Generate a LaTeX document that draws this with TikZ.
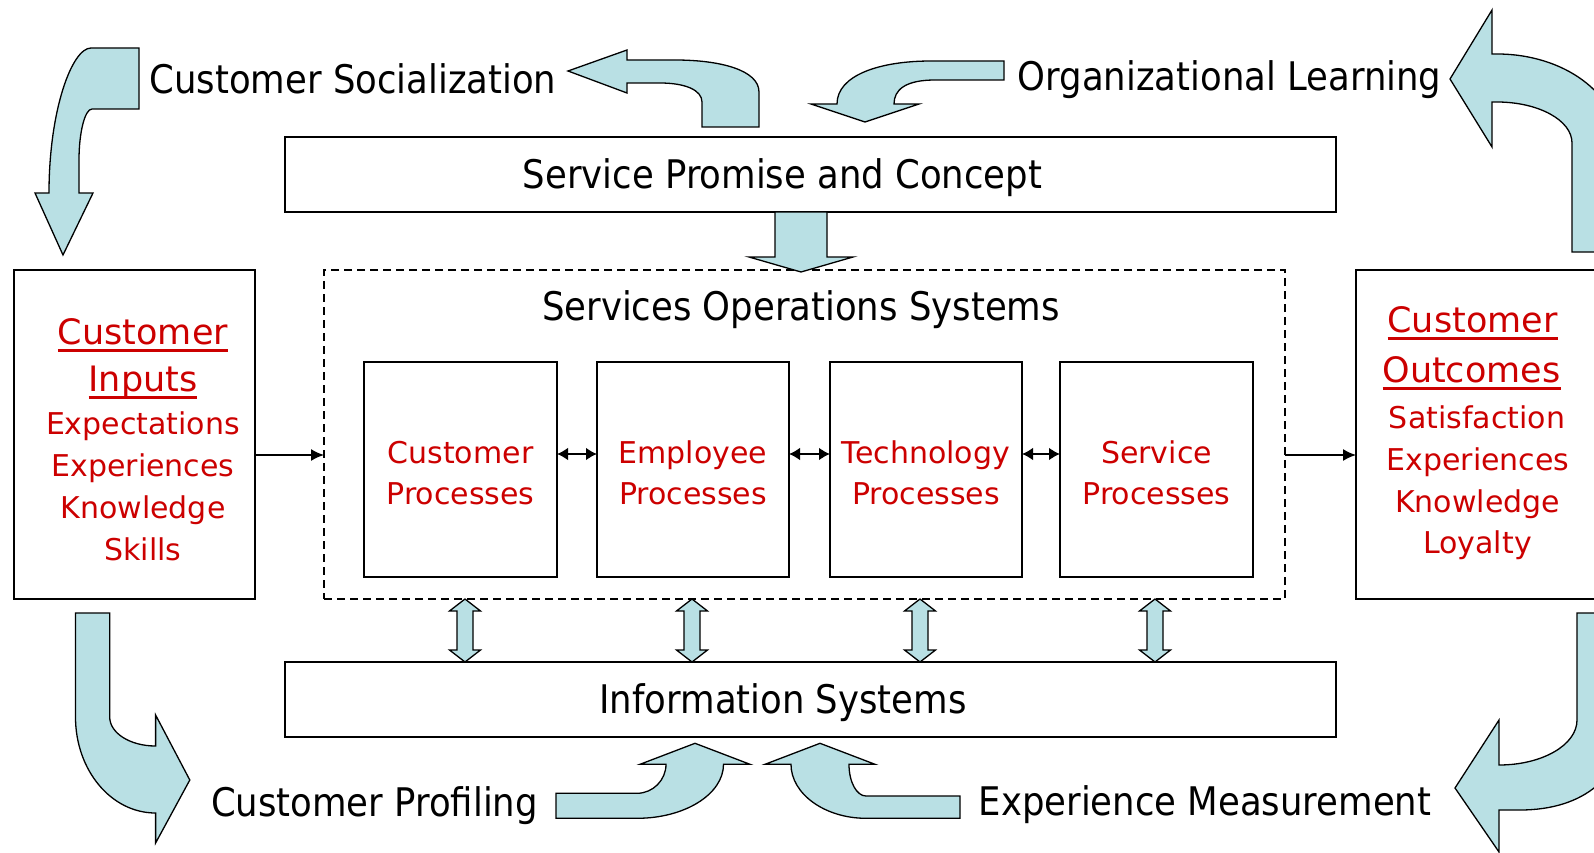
\documentclass[tikz,border=0pt]{standalone}
\usepackage{fontspec}
\newfontfamily\fblack[FakeStretch=0.9]{DejaVu Sans}
\newfontfamily\fred{DejaVu Sans}
\usetikzlibrary{arrows.meta}
\definecolor{ablue}{RGB}{185,224,228}
\definecolor{myred}{RGB}{204,0,0}
\newcommand\ulred[1]{\setbox0=\hbox{#1}\rlap{\rule[-8pt]{\wd0}{2.8pt}}\box0}
\begin{document}
\begin{tikzpicture}[x=1pt,y=-1pt,
  box/.style={draw=black, line width=1.8pt, fill=white, inner sep=0pt, outer sep=0pt, anchor=north west},
  dbox/.style={draw=black, line width=1.4pt, dash pattern=on 8pt off 5pt, inner sep=0pt, outer sep=0pt, anchor=north west},
  blk/.style={fill=ablue, draw=black, line width=1.3pt, line join=miter},
  conn/.style={draw=black, line width=1.8pt},
  dtip/.style={{Latex[length=11pt,width=13pt]}-{Latex[length=11pt,width=13pt]}},
  lbl/.style={inner sep=0pt, anchor=base, font=\fblack\fontsize{39.4}{46}\selectfont},
  rhead/.style={inner sep=0pt, anchor=base, text=myred, font=\fred\fontsize{35}{42}\selectfont},
  ritem/.style={inner sep=0pt, anchor=base, text=myred, font=\fred\fontsize{30}{36}\selectfont}]
\useasboundingbox (0,0) rectangle (1594,853);
\fill[white] (0,0) rectangle (1594,853);
\clip (0,0) rectangle (1594,853);

% boxes
\node[box, minimum width=1051pt, minimum height=75pt] (sp) at (285,137) {};
\node[box, minimum width=1051pt, minimum height=75pt] (is) at (285,662) {};
\node[dbox, minimum width=961pt, minimum height=329pt] (sos) at (324,270) {};
\node[box, minimum width=241pt, minimum height=329pt] (lbox) at (14,270) {};
\node[box, minimum width=300pt, minimum height=329pt] (rbox) at (1356,270) {};
\node[box, minimum width=193pt, minimum height=215pt] (p1) at (364,362) {};
\node[box, minimum width=192pt, minimum height=215pt] (p2) at (597,362) {};
\node[box, minimum width=192pt, minimum height=215pt] (p3) at (830,362) {};
\node[box, minimum width=193pt, minimum height=215pt] (p4) at (1060,362) {};

% black labels
\node[lbl] (tcs) at (353,94) {Customer Socialization};
\node[lbl] (tol) at (1229.5,91) {Organizational Learning};
\node[lbl] (tsp) at (782.5,189) {Service Promise and Concept};
\node[lbl] (tsos) at (801,320) {Services Operations Systems};
\node[lbl] (tis) at (783,713) {Information Systems};
\node[lbl] (tcp) at (374.5,816) {Customer Profiling};
\node[lbl] (tem) at (1205,815) {Experience Measurement};

% left box text
\node[rhead] (l1) at (143,344) {\ulred{Customer}};
\node[rhead] (l2) at (143,391) {\ulred{Inputs}};
\node[ritem] (l3) at (143,434) {Expectations};
\node[ritem] (l4) at (143,476) {Experiences};
\node[ritem] (l5) at (143,518) {Knowledge};
\node[ritem] (l6) at (143,560) {Skills};

% right box text
\node[rhead] (r1) at (1472.5,332) {\ulred{Customer}};
\node[rhead] (r2) at (1471.5,382) {\ulred{Outcomes}};
\node[ritem] (r3) at (1477,428) {Satisfaction};
\node[ritem] (r4) at (1478,470) {Experiences};
\node[ritem] (r5) at (1477.5,512) {Knowledge};
\node[ritem] (r6) at (1477.5,553) {Loyalty};

% process texts
\node[ritem] (p1a) at (460.5,463) {Customer};
\node[ritem] (p1b) at (460.5,504) {Processes};
\node[ritem] (p2a) at (693,463) {Employee};
\node[ritem] (p2b) at (693,504) {Processes};
\node[ritem] (p3a) at (926,463) {Technology};
\node[ritem] (p3b) at (926,504) {Processes};
\node[ritem] (p4a) at (1156.5,463) {Service};
\node[ritem] (p4b) at (1156.5,504) {Processes};

% thin connectors
\coordinate (ay) at (0,454);
\coordinate (ly) at (0,455);
\draw[conn, line width=2.2pt, dtip] (p1.east |- ay) -- (p2.west |- ay);
\draw[conn, line width=2.2pt, dtip] (p2.east |- ay) -- (p3.west |- ay);
\draw[conn, line width=2.2pt, dtip] (p3.east |- ay) -- (p4.west |- ay);
\draw[conn, line width=1.5pt, -{Latex[length=13pt,width=12pt]}] (lbox.east |- ly) -- (sos.west |- ly);
\draw[conn, line width=1.5pt, -{Latex[length=13pt,width=12pt]}] (sos.east |- ly) -- (rbox.west |- ly);

% down arrow from service promise
\draw[blk] (775,212) -- (827,212) -- (827,257) -- (853,257) -- (801,272) -- (749,257) -- (775,257) -- cycle;

% vertical double arrows
\foreach \c in {465,692,920,1155}{
  \draw[blk] (\c,599) -- (\c+15.5,611) -- (\c+8,611) -- (\c+8,650) -- (\c+15.5,650) -- (\c,662)
    -- (\c-15.5,650) -- (\c-8,650) -- (\c-8,611) -- (\c-15.5,611) -- cycle;
}

% top-left curved arrow
\draw[blk] (139,48) -- (91,48) .. controls (72,48) and (49,110) .. (49,193) -- (35,193) -- (63,255)
  -- (93,193) -- (79,193) -- (79,160) .. controls (79,132) and (85,109) .. (92,109) -- (139,109) -- cycle;

% customer socialization arrow
\draw[blk] (702,127) -- (759,127) -- (759,92) .. controls (759,70) and (720,60) .. (675,60) -- (627,60)
  -- (627,50) -- (568,71) -- (627,93) -- (627,83) -- (660,83) .. controls (685,83) and (702,90) .. (702,102) -- cycle;

% organizational learning arrow
\draw[blk] (1004,61) -- (931,61) .. controls (880,61) and (837,75) .. (837,104) -- (811,104) -- (865,122)
  -- (919,104) -- (894,104) .. controls (894,90) and (905,80) .. (935,80) -- (1004,80) -- cycle;

% top-right big arrow
\draw[blk] (1572,252) -- (1572,143) .. controls (1572,120) and (1538,102) .. (1497,102) -- (1492,102)
  -- (1492,147) -- (1450,79) -- (1492,10) -- (1492,54) -- (1497,54) .. controls (1564,54) and (1618,94) .. (1618,143)
  -- (1618,252) -- cycle;

% bottom-left arrow
\draw[blk] (75.5,613) -- (109.7,613) -- (109.7,717) .. controls (109.7,733) and (130,746) .. (155.6,746)
  -- (155.6,715) -- (189.8,780) -- (155.6,843) -- (155.6,813) .. controls (111,813) and (75.5,770) .. (75.5,717) -- cycle;

% customer profiling arrow
\draw[blk] (556,793.3) -- (637,793.3) .. controls (653,793.3) and (666,780) .. (666,764.3) -- (640,764.3)
  -- (695,743.3) -- (750,764.3) -- (723.5,764.3) .. controls (723.5,794) and (685,818.3) .. (637,818.3) -- (556,818.3) -- cycle;

% experience measurement arrow
\draw[blk] (960,796) -- (866,796) .. controls (856.6,796) and (849,782) .. (849,764.3) -- (875,764.3)
  -- (820,743.3) -- (765,764.3) -- (791,764.3) .. controls (791,794) and (825,818.3) .. (866,818.3) -- (960,818.3) -- cycle;

% bottom-right big arrow
\draw[blk] (1577,613) -- (1577,720) .. controls (1577,745) and (1542,765) .. (1499,765) -- (1499,720)
  -- (1455,788) -- (1499,852) -- (1499,810) -- (1520,810) .. controls (1585,810) and (1625,775) .. (1625,720)
  -- (1625,613) -- cycle;
\end{tikzpicture}
\end{document}
